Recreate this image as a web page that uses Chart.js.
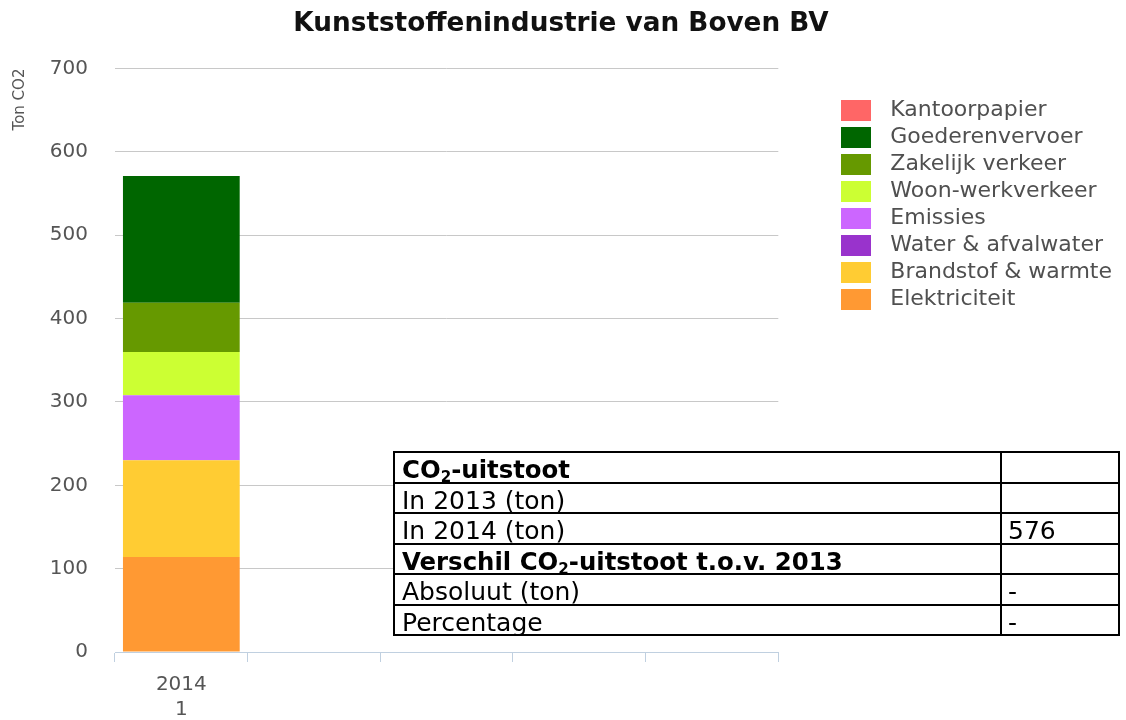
<!DOCTYPE html>
<html><head><meta charset="utf-8">
<script src="https://cdn.jsdelivr.net/npm/chart.js@4.4.0/dist/chart.umd.min.js"></script>
<style>
html,body{margin:0;padding:0;background:#fff;}
#wrap{position:relative;width:1126px;height:720px;overflow:hidden;}
canvas{display:block;}
#tbl{position:absolute;left:393px;top:451px;width:727px;border-collapse:collapse;font-family:"DejaVu Sans",sans-serif;font-size:25px;color:#000;background:#fff;}
#tbl tr{height:30.5px;}
#tbl td{border:2px solid #000;padding:6px 0 0 7px;line-height:22px;white-space:nowrap;vertical-align:top;}
#tbl td.v{width:110px;padding-left:6px;}
#tbl b{font-size:24.4px;}
#tbl sub{font-size:0.62em;line-height:0;vertical-align:-0.25em;}
</style></head>
<body>
<div id="wrap">
<canvas id="c" width="1126" height="720"></canvas>
<table id="tbl"><tbody id="tb"></tbody></table>
</div>
<script>
const chartTitle = 'Kunststoffenindustrie van Boven BV';
const yAxisTitle = 'Ton CO2';
const categories = [['2014', '1'], '', '', '', ''];
const seriesNames = ['Elektriciteit', 'Brandstof & warmte', 'Water & afvalwater', 'Emissies', 'Woon-werkverkeer', 'Zakelijk verkeer', 'Goederenvervoer', 'Kantoorpapier'];
const seriesColors = ['#ff9933', '#ffcc33', '#9933cc', '#cc66ff', '#ccff33', '#669900', '#006600', '#ff6666'];
const elektriciteit = [114, null, null, null, null];
const brandstofWarmte = [116, null, null, null, null];
const waterAfvalwater = [0, null, null, null, null];
const emissies = [78, null, null, null, null];
const woonWerkverkeer = [52, null, null, null, null];
const zakelijkVerkeer = [59, null, null, null, null];
const goederenvervoer = [152, null, null, null, null];
const kantoorpapier = [0, null, null, null, null];
const seriesValues = [elektriciteit, brandstofWarmte, waterAfvalwater, emissies, woonWerkverkeer, zakelijkVerkeer, goederenvervoer, kantoorpapier];
const yTicks = [0, 100, 200, 300, 400, 500, 600, 700];

const tableLabels = ['<b>CO<sub>2</sub>-uitstoot</b>', 'In 2013 (ton)', 'In 2014 (ton)', '<b>Verschil CO<sub>2</sub>-uitstoot t.o.v. 2013</b>', 'Absoluut (ton)', 'Percentage'];
const tableValues = ['', '', '576', '', '-', '-'];

const tb = document.getElementById('tb');
tableLabels.forEach((l, i) => {
  const tr = document.createElement('tr');
  tr.innerHTML = '<td>' + l + '</td><td class="v">' + tableValues[i] + '</td>';
  tb.appendChild(tr);
});

function swatch(color) {
  const c = document.createElement('canvas');
  c.width = 30; c.height = 21;
  const g = c.getContext('2d');
  g.fillStyle = color; g.fillRect(0, 0, 30, 21);
  return c;
}

const FONT = '"DejaVu Sans", sans-serif';
new Chart(document.getElementById('c'), {
  type: 'bar',
  data: {
    labels: categories,
    datasets: seriesNames.map((n, i) => ({
      label: n,
      data: seriesValues[i],
      backgroundColor: seriesColors[i],
      borderWidth: 0,
      barPercentage: 0.88,
      categoryPercentage: 1.0
    }))
  },
  options: {
    responsive: false,
    animation: false,
    devicePixelRatio: 1,
    layout: { padding: { left: 0, right: 4, top: 0, bottom: 0 } },
    plugins: {
      tooltip: { enabled: false },
      title: {
        display: true, text: chartTitle, color: '#111',
        font: { family: FONT, size: 26.3, weight: 'bold', lineHeight: 1.2 },
        padding: { top: 8, bottom: 29 }
      },
      legend: {
        position: 'right', align: 'start', reverse: true, maxWidth: 400,
        title: { display: true, text: ' ', font: { size: 10, lineHeight: 1 }, padding: { top: 84, bottom: 0 } },
        labels: {
          usePointStyle: true, pointStyleWidth: 46, boxHeight: 22,
          padding: 5, color: '#505050',
          font: { family: FONT, size: 22 },
          generateLabels(chart) {
            const items = Chart.defaults.plugins.legend.labels.generateLabels(chart);
            items.forEach(it => { it.pointStyle = swatch(it.fillStyle); it.lineWidth = 0; });
            return items;
          }
        }
      }
    },
    scales: {
      x: {
        stacked: true,
        grid: { display: true, drawOnChartArea: false, drawTicks: true, tickLength: 10, color: '#c0d0e0', offset: true },
        border: { display: true, color: '#c0d0e0', width: 1 },
        ticks: { color: '#555', font: { family: FONT, size: 20, lineHeight: 1.25 }, padding: 10, maxRotation: 0, autoSkip: false },
        afterFit(s) { s.height = 68; }
      },
      y: {
        stacked: true, min: 0, max: 700,
        afterBuildTicks(s) { s.ticks = yTicks.map(v => ({ value: v })); },
        grid: { color: '#c8c8c8', drawTicks: false },
        border: { display: false },
        ticks: { color: '#555', font: { family: FONT, size: 20 }, padding: 27 },
        title: { display: true, text: yAxisTitle, align: 'end', color: '#555', font: { family: FONT, size: 15, lineHeight: 1.2 }, padding: { top: 11, bottom: 0 } },
        afterFit(s) { s.width = 115; }
      },
      yR: {
        position: 'right', display: true,
        grid: { display: false }, border: { display: false }, ticks: { display: false },
        afterFit(s) { s.width = 50; }
      }
    }
  }
});
</script>
</body></html>
